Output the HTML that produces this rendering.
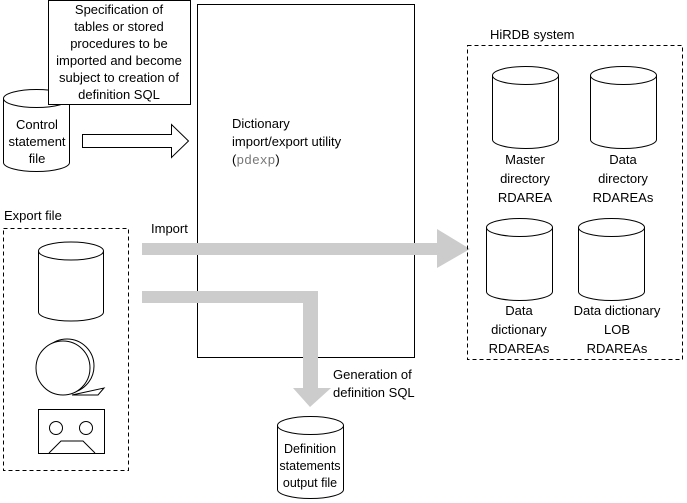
<!DOCTYPE html>
<html><head><style>body{margin:0;background:#fff}svg{display:block}text{font-family:"Liberation Sans",sans-serif;font-size:13px;fill:#000}</style></head><body>
<svg width="687" height="503" viewBox="0 0 687 503" xmlns="http://www.w3.org/2000/svg">
<defs>
<g id="cyl"><path d="M0,9 L0,73 A33,9 0 0 0 66,73 L66,9" fill="#fff" stroke="#000"/><ellipse cx="33" cy="9" rx="33" ry="9" fill="#fff" stroke="#000"/></g>
</defs>
<rect x="197.5" y="4.5" width="217" height="353" fill="#fff" stroke="#000"/>
<text x="232" y="128">Dictionary</text>
<text x="232" y="146">import/export utility</text>
<text x="232" y="164">(<tspan font-family="Liberation Mono" fill="#777">pdexp</tspan>)</text>
<use href="#cyl" transform="translate(3.5,89.5)"/>
<text text-anchor="middle" x="37" y="129">Control</text>
<text text-anchor="middle" x="37" y="146">statement</text>
<text text-anchor="middle" x="37" y="163">file</text>
<rect x="48.5" y="0.5" width="142" height="104" fill="#fff" stroke="#000"/>
<text text-anchor="middle" x="119" y="14">Specification of</text>
<text text-anchor="middle" x="119" y="31">tables or stored</text>
<text text-anchor="middle" x="119" y="48">procedures to be</text>
<text text-anchor="middle" x="119" y="65">imported and become</text>
<text text-anchor="middle" x="119" y="82">subject to creation of</text>
<text text-anchor="middle" x="119" y="99">definition SQL</text>
<path d="M82.5,134.5 L171.5,134.5 L171.5,124.5 L188.5,141 L171.5,157.5 L171.5,147.5 L82.5,147.5 Z" fill="#fff" stroke="#000"/>
<text x="4" y="220">Export file</text>
<rect x="3.5" y="228.5" width="125" height="242" fill="none" stroke="#000" stroke-dasharray="4,3"/>
<path d="M38.5,251 L38.5,312 A32.5,9 0 0 0 103.5,312 L103.5,251" fill="#fff" stroke="#000"/>
<ellipse cx="71" cy="251" rx="32.5" ry="9" fill="#fff" stroke="#000"/>
<circle cx="67" cy="366" r="27" fill="#fff" stroke="#000"/>
<circle cx="63" cy="368" r="27" fill="#fff" stroke="#000"/>
<path d="M72,395 L104,388 L98,395 Z" fill="#fff" stroke="#000"/>
<rect x="38.5" y="409.5" width="66" height="44" fill="#fff" stroke="#000"/>
<circle cx="56" cy="428" r="6.5" fill="none" stroke="#000"/>
<circle cx="86" cy="428" r="6.5" fill="none" stroke="#000"/>
<path d="M49,453 L61,441 L83,441 L95,453" fill="none" stroke="#000"/>
<text x="151" y="233">Import</text>
<path d="M142,243 L437,243 L437,229 L470,249 L437,268 L437,255 L142,255 Z" fill="#ccc"/>
<path d="M142,291 L318,291 L318,388 L331,388 L310,407 L293,388 L303,388 L303,303 L142,303 Z" fill="#ccc"/>
<text x="333" y="379">Generation of</text>
<text x="333" y="397">definition SQL</text>
<use href="#cyl" transform="translate(277.5,416.5)"/>
<text text-anchor="middle" x="310" y="453" style="font-size:12.5px">Definition</text>
<text text-anchor="middle" x="310" y="470" style="font-size:12.5px">statements</text>
<text text-anchor="middle" x="310" y="487" style="font-size:12.5px">output file</text>
<text x="490" y="39">HiRDB system</text>
<rect x="467.5" y="45.5" width="215" height="314" fill="none" stroke="#000" stroke-dasharray="4,3"/>
<use href="#cyl" transform="translate(492.5,66.5)"/>
<use href="#cyl" transform="translate(590.5,66.5)"/>
<use href="#cyl" transform="translate(486.5,218.5)"/>
<use href="#cyl" transform="translate(578.5,218.5)"/>
<g text-anchor="middle">
<text x="525" y="164">Master</text><text x="525" y="183">directory</text><text x="525" y="202">RDAREA</text>
<text x="623" y="164">Data</text><text x="623" y="183">directory</text><text x="623" y="202">RDAREAs</text>
<text x="519" y="315">Data</text><text x="519" y="334">dictionary</text><text x="519" y="353">RDAREAs</text>
<text x="617" y="315">Data dictionary</text><text x="617" y="334">LOB</text><text x="617" y="353">RDAREAs</text>
</g>
</svg>
</body></html>
